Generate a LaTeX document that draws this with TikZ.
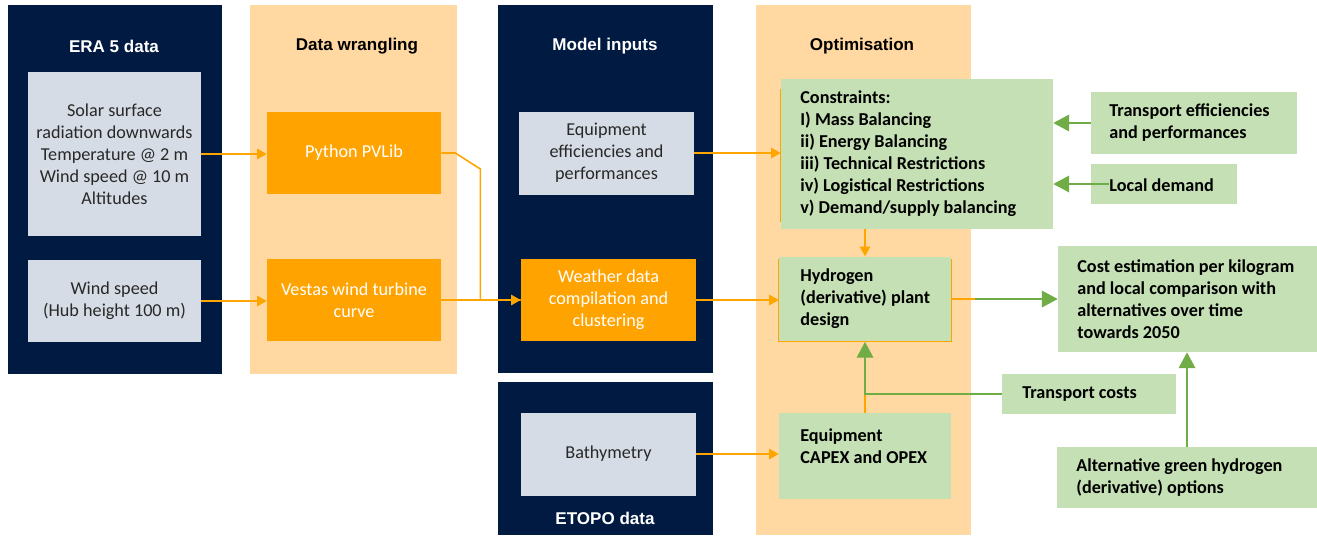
\documentclass[tikz,border=0pt]{standalone}
\usepackage{fontspec}
\setmainfont{Carlito}
\newfontfamily\headfont{Liberation Sans}
\usetikzlibrary{arrows.meta}
\definecolor{navy}{RGB}{0,26,66}
\definecolor{peach}{RGB}{255,217,161}
\definecolor{obox}{RGB}{255,163,0}
\definecolor{gbox}{RGB}{214,220,229}
\definecolor{grnbox}{RGB}{197,224,180}
\definecolor{garrc}{RGB}{112,173,71}
\definecolor{olinec}{RGB}{255,165,0}
\definecolor{txtgray}{RGB}{40,40,40}
\begin{document}
\begin{tikzpicture}[x=0.02cm,y=-0.02cm,
  head/.style={font=\headfont\bfseries\fontsize{9.7}{11.6}\selectfont, inner sep=0},
  greybox/.style={fill=gbox, text=txtgray, align=center, inner sep=0, font=\fontsize{10.35}{12.5}\selectfont},
  orangebox/.style={fill=obox, text=white, align=center, inner sep=0, font=\fontsize{10.35}{12.5}\selectfont},
  greenbox/.style={fill=grnbox, inner sep=0},
  greentext/.style={font=\bfseries\fontsize{10.35}{12.5}\selectfont, align=left, anchor=west, inner sep=0, text=black},
  oarr/.style={draw=olinec, line width=0.9pt, -{Triangle[length=5.5pt,width=6pt]}},
  oln/.style={draw=olinec, line width=0.9pt},
  garr/.style={draw=garrc, line width=0.7pt, -{Triangle[length=9pt,width=9.5pt]}}
]
\useasboundingbox (0,0) rectangle (1317,535);
% panels
\fill[navy] (8,5) rectangle (222,374);
\fill[peach] (250,5) rectangle (457,374);
\fill[navy] (498,5) rectangle (713,373);
\fill[navy] (498,382) rectangle (713,535);
\fill[peach] (756,5) rectangle (971,535);
% titles
\node[head, text=white] (t1) at (114,46) {ERA 5 data};
\node[head, text=black] (t2) at (357,46) {Data wrangling};
\node[head, text=white] (t3) at (605,46) {Model inputs};
\node[head, text=black] (t4) at (862,46) {Optimisation};
\node[head, text=white] (t5) at (605,518) {ETOPO data};
% grey boxes
\node[greybox, minimum width=3.46cm, minimum height=3.30cm] (solar) at (114.5,154)
  {Solar surface\\radiation downwards\\Temperature @ 2 m\\Wind speed @ 10 m\\Altitudes};
\node[greybox, minimum width=3.46cm, minimum height=1.64cm] (wind) at (114.5,301)
  {Wind speed\\(Hub height 100 m)};
\node[greybox, minimum width=3.50cm, minimum height=1.66cm] (eqeff) at (606.5,153)
  {Equipment\\efficiencies and\\performances};
\node[greybox, minimum width=3.50cm, minimum height=1.66cm] (bathy) at (608.5,454)
  {Bathymetry};
% orange boxes
\node[orangebox, minimum width=3.48cm, minimum height=1.64cm] (pv) at (354,153) {Python PVLib};
\node[orangebox, minimum width=3.48cm, minimum height=1.64cm] (vestas) at (354,300) {Vestas wind turbine\\curve};
\node[orangebox, minimum width=3.50cm, minimum height=1.64cm] (weather) at (608.5,300) {Weather data\\compilation and\\clustering};
% green boxes
\node[greenbox, minimum width=5.44cm, minimum height=3.00cm] (cons) at (917,154) {};
\node[greenbox, minimum width=3.44cm, minimum height=1.70cm] (hyd) at (865,299) {};
\node[greenbox, minimum width=3.44cm, minimum height=1.72cm] (capex) at (865,456) {};
\node[greenbox, minimum width=4.12cm, minimum height=1.24cm] (te) at (1194,123) {};
\node[greenbox, minimum width=2.92cm, minimum height=0.80cm] (ld) at (1164,184) {};
\node[greenbox, minimum width=5.18cm, minimum height=2.12cm] (cost) at (1187.5,299) {};
\node[greenbox, minimum width=3.48cm, minimum height=0.80cm] (tc) at (1089,394) {};
\node[greenbox, minimum width=5.20cm, minimum height=1.22cm] (alt) at (1187,477.5) {};
% orange edges on green boxes
\draw[draw=olinec, line width=0.6pt] ([yshift=-0.2cm]cons.north west) -- ([yshift=0.14cm]cons.south west);
\draw[draw=olinec, line width=0.6pt] ([yshift=-0.06cm]hyd.north west) -- (hyd.south west) -- (hyd.south east) -- ([yshift=-0.06cm]hyd.north east);
% green texts
\node[greentext] (cons-t) at (800,154) {Constraints:\\I) Mass Balancing\\ii) Energy Balancing\\iii) Technical Restrictions\\iv) Logistical Restrictions\\v) Demand/supply balancing};
\node[greentext] (hyd-t) at (800,299) {Hydrogen\\(derivative) plant\\design};
\node[greentext] (capex-t) at (800,446) {Equipment\\CAPEX and OPEX};
\node[greentext] (te-t) at (1109,123) {Transport efficiencies\\and performances};
\node[greentext] (ld-t) at (1109,185) {Local demand};
\node[greentext] (cost-t) at (1077,299.5) {Cost estimation per kilogram\\and local comparison with\\alternatives over time\\towards 2050};
\node[greentext] (tc-t) at (1022,394) {Transport costs};
\node[greentext] (alt-t) at (1076,478) {Alternative green hydrogen\\(derivative) options};
% orange connectors
\draw[oarr] (solar.east) -- (solar.east -| pv.west);
\draw[oarr] (wind.east) -- (wind.east -| vestas.west);
\draw[oln] (pv.east) -- ++(14,0) -- ++(25,16) |- (weather.west);
\draw[oarr] (vestas.east) -- (weather.west);
\draw[oarr] (weather.east) -- (weather.east -| hyd.west);
\draw[oarr] (eqeff.east) -- (eqeff.east -| cons.west);
\draw[oarr] (bathy.east) -- (bathy.east -| capex.west);
\draw[oarr] (hyd.north |- cons.south) -- (hyd.north);
\draw[oln] (capex.north) -- (capex.north |- tc.west);
% green connectors
\draw[garr] (tc.west) -| (hyd.south);
\draw[garr] (hyd.east) -- (hyd.east -| cost.west);
\draw[oln] (hyd.east) -- ++(24,0);
\draw[garr] (te.west) -- (te.west -| cons.east);
\draw[garr] ([xshift=0.36cm]ld.west) -- (ld.west -| cons.east);
\draw[garr] (alt.north) -- (alt.north |- cost.south);
\end{tikzpicture}
\end{document}
